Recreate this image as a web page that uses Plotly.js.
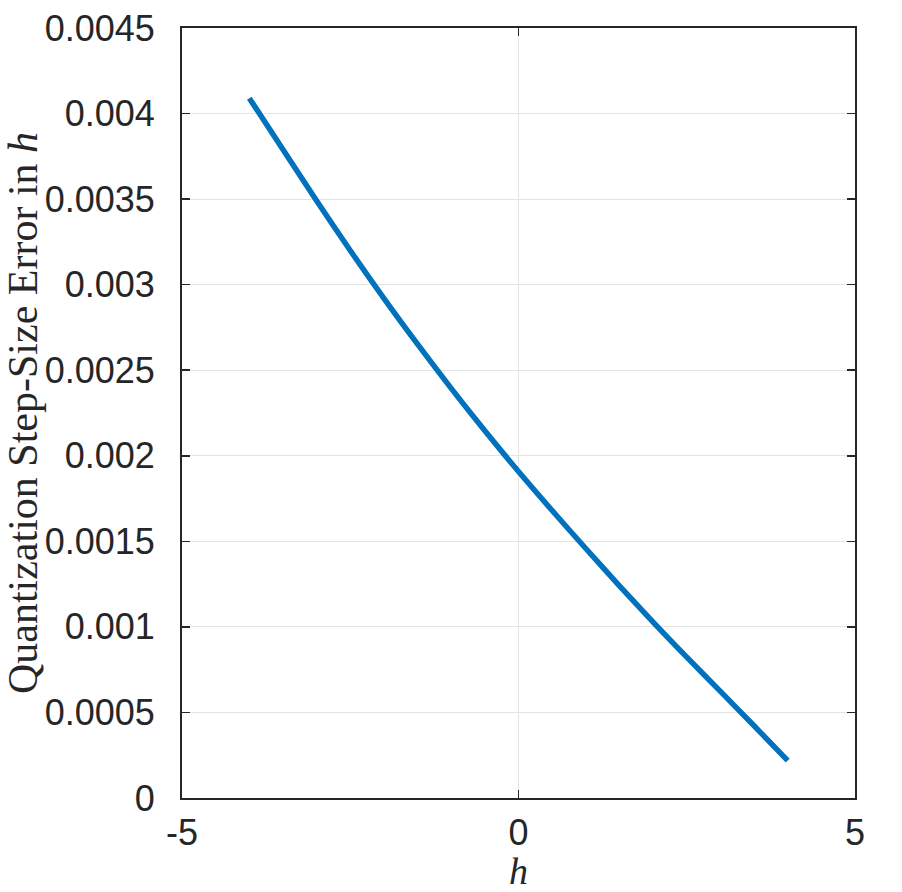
<!DOCTYPE html>
<html>
<head>
<meta charset="utf-8">
<script src="https://cdn.plot.ly/plotly-3.0.1.min.js"></script>
<style>html,body{margin:0;padding:0;background:#fff;}#chart{width:902px;height:892px;}</style>
</head>
<body>
<div id="chart"></div>
<script>
const hValues = [-4, -3.5, -3, -2.5, -2, -1.5, -1, -0.5, 0, 0.5, 1, 1.5, 2, 2.5, 3, 3.5, 4];
const errorValues = [0.00409, 0.00379, 0.00349, 0.00320, 0.00292, 0.002652, 0.002394, 0.002146, 0.001908, 0.00168, 0.001458, 0.00124, 0.001028, 0.000823, 0.000623, 0.000422, 0.000218];
const xTickVals = [-5, 0, 5];
const xTickText = ['-5', '0', '5'];
const yTickVals = [0, 0.0005, 0.001, 0.0015, 0.002, 0.0025, 0.003, 0.0035, 0.004, 0.0045];
const yTickText = ['0', '0.0005', '0.001', '0.0015', '0.002', '0.0025', '0.003', '0.0035', '0.004', '0.0045'];

const trace = {
  x: hValues,
  y: errorValues,
  type: 'scatter',
  mode: 'lines',
  line: {color: '#0072BD', width: 5.5, shape: 'spline', smoothing: 0.8},
  hoverinfo: 'skip'
};

const layout = {
  width: 902,
  height: 892,
  margin: {l: 182, r: 47, t: 28, b: 94},
  paper_bgcolor: '#ffffff',
  plot_bgcolor: '#ffffff',
  showlegend: false,
  font: {family: 'Liberation Sans, Arial, sans-serif', color: '#262626', size: 36},
  xaxis: {
    range: [-5, 5],
    tickvals: xTickVals,
    ticktext: xTickText,
    ticks: 'inside',
    ticklen: 8,
    tickwidth: 1.5,
    tickcolor: '#262626',
    showline: true,
    mirror: 'ticks',
    linecolor: '#262626',
    linewidth: 2,
    showgrid: true,
    gridcolor: '#e3e3e3',
    gridwidth: 1,
    zeroline: false,
    tickfont: {family: 'Liberation Sans, Arial, sans-serif', size: 36, color: '#262626'},
    ticklabelstandoff: 2,
    title: {text: '<i>h</i>', font: {family: 'Liberation Serif, DejaVu Serif, serif', size: 38, color: '#262626'}, standoff: 8}
  },
  yaxis: {
    range: [0, 0.0045],
    tickvals: yTickVals,
    ticktext: yTickText,
    ticks: 'inside',
    ticklen: 8,
    tickwidth: 1.5,
    tickcolor: '#262626',
    showline: true,
    mirror: 'ticks',
    linecolor: '#262626',
    linewidth: 2,
    showgrid: true,
    gridcolor: '#e3e3e3',
    gridwidth: 1,
    zeroline: false,
    tickfont: {family: 'Liberation Sans, Arial, sans-serif', size: 36, color: '#262626'},
    ticklabelstandoff: 18,
    title: {text: 'Quantization Step-Size Error in <i>h</i>', font: {family: 'Liberation Serif, DejaVu Serif, serif', size: 42, color: '#262626'}, standoff: 4}
  }
};

Plotly.newPlot('chart', [trace], layout, {staticPlot: true, displayModeBar: false});
</script>
</body>
</html>
